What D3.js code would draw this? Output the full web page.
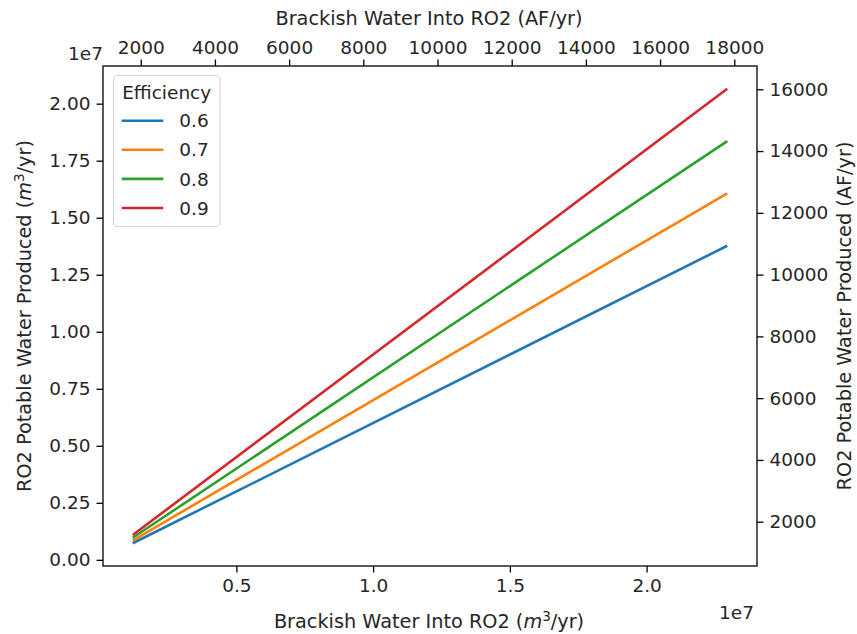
<!DOCTYPE html>
<html>
<head>
<meta charset="utf-8">
<script src="https://cdn.jsdelivr.net/npm/d3@7/dist/d3.min.js"></script>
<style>
  html, body { margin: 0; padding: 0; background: #fff; }
  svg { display: block; font-family: "DejaVu Sans", sans-serif; }
</style>
</head>
<body>
<svg id="chart" width="857" height="634"></svg>
<script>
// ---- data ----
const efficiency = ["0.6", "0.7", "0.8", "0.9"];
const colors = ["#1f77b4", "#ff7f0e", "#2ca02c", "#d62728"];
const brackishM3 = [1.21e6, 2.295e7];          // bottom axis (m3/yr)
const potable06 = [0.726e6, 1.377e7];
const potable07 = [0.847e6, 1.6065e7];
const potable08 = [0.968e6, 1.836e7];
const potable09 = [1.089e6, 2.0655e7];
const brackishAF = [1784, 17811];              // top twin axis extent (AF/yr)
const potableAF = [1302, 16018];               // right twin axis extent (AF/yr)
const xTicks = [0.5e7, 1.0e7, 1.5e7, 2.0e7];
const yTicks = [0, 0.25e7, 0.5e7, 0.75e7, 1.0e7, 1.25e7, 1.5e7, 1.75e7, 2.0e7];
const topTicks = [2000, 4000, 6000, 8000, 10000, 12000, 14000, 16000, 18000];
const rightTicks = [2000, 4000, 6000, 8000, 10000, 12000, 14000, 16000];

const series = [potable06, potable07, potable08, potable09];

// ---- layout ----
const L = 103, R = 757, T = 66, B = 566;
const FS = 18.5;
const LFS = 19.3;
const txt = "#262626";
const svg = d3.select("#chart");

function padded(ext) {
  const [lo, hi] = d3.extent(ext);
  const m = (hi - lo) * 0.05;
  return [lo - m, hi + m];
}
const allY = series.flat();
const x = d3.scaleLinear().domain(padded(brackishM3)).range([L, R]);
const y = d3.scaleLinear().domain(padded(allY)).range([B, T]);
const xTop = d3.scaleLinear().domain(padded(brackishAF)).range([L, R]);
const yRight = d3.scaleLinear().domain(padded(potableAF)).range([B, T]);

const TL = 6.5, PAD = 6;

function styleAxis(g) {
  g.select(".domain").remove();
  g.selectAll(".tick line").attr("stroke", "#000").attr("stroke-width", 1.3);
  g.selectAll(".tick text").attr("fill", txt).style("font-size", FS + "px")
    .style("font-family", "DejaVu Sans");
}

svg.append("g").attr("transform", `translate(0,${B})`)
  .call(d3.axisBottom(x).tickValues(xTicks).tickFormat(d => (d / 1e7).toFixed(1))
    .tickSizeInner(TL).tickSizeOuter(0).tickPadding(PAD))
  .call(styleAxis);
svg.append("g").attr("transform", `translate(${L},0)`)
  .call(d3.axisLeft(y).tickValues(yTicks).tickFormat(d => (d / 1e7).toFixed(2))
    .tickSizeInner(TL).tickSizeOuter(0).tickPadding(PAD))
  .call(styleAxis);
svg.append("g").attr("transform", `translate(0,${T})`)
  .call(d3.axisTop(xTop).tickValues(topTicks).tickFormat(d3.format("d"))
    .tickSizeInner(TL).tickSizeOuter(0).tickPadding(PAD))
  .call(styleAxis);
svg.append("g").attr("transform", `translate(${R},0)`)
  .call(d3.axisRight(yRight).tickValues(rightTicks).tickFormat(d3.format("d"))
    .tickSizeInner(TL).tickSizeOuter(0).tickPadding(PAD))
  .call(styleAxis);

// ---- lines ----
const line = d3.line().x((d, i) => x(brackishM3[i])).y(d => y(d));
series.forEach((s, i) => {
  svg.append("path").datum(s).attr("d", line)
    .attr("fill", "none").attr("stroke", colors[i]).attr("stroke-width", 2.6);
});

// ---- spines ----
svg.append("rect").attr("x", L).attr("y", T).attr("width", R - L).attr("height", B - T)
  .attr("fill", "none").attr("stroke", "#000").attr("stroke-width", 1.3);

// ---- offset labels ----
svg.append("text").attr("x", R - 3).attr("y", 619).attr("text-anchor", "end")
  .attr("fill", txt).style("font-size", FS + "px").text("1e7");
svg.append("text").attr("x", L).attr("y", 60).attr("text-anchor", "end")
  .attr("fill", txt).style("font-size", FS + "px").text("1e7");

// ---- axis labels ----
const cx = (L + R) / 2, cy = (T + B) / 2;
svg.append("text").attr("x", cx - 1).attr("y", 25).attr("text-anchor", "middle")
  .attr("fill", txt).style("font-size", LFS + "px").text("Brackish Water Into RO2 (AF/yr)");

const bl = svg.append("text").attr("x", cx - 1).attr("y", 628).attr("text-anchor", "middle")
  .attr("fill", txt).style("font-size", LFS + "px");
bl.append("tspan").text("Brackish Water Into RO2 (");
bl.append("tspan").style("font-style", "italic").text("m");
bl.append("tspan").attr("dy", -7).style("font-size", (LFS * 0.7) + "px").text("3");
bl.append("tspan").attr("dy", 7).text("/yr)");

const ll = svg.append("text").attr("transform", `translate(31,${cy}) rotate(-90)`)
  .attr("text-anchor", "middle").attr("fill", txt).style("font-size", LFS + "px");
ll.append("tspan").text("RO2 Potable Water Produced (");
ll.append("tspan").style("font-style", "italic").text("m");
ll.append("tspan").attr("dy", -7).style("font-size", (LFS * 0.7) + "px").text("3");
ll.append("tspan").attr("dy", 7).text("/yr)");

svg.append("text").attr("transform", `translate(851,${cy}) rotate(-90)`)
  .attr("text-anchor", "middle").attr("fill", txt).style("font-size", LFS + "px")
  .text("RO2 Potable Water Produced (AF/yr)");

// ---- legend ----
const lg = svg.append("g");
lg.append("rect").attr("x", 113.5).attr("y", 75.5).attr("width", 106.5).attr("height", 151)
  .attr("rx", 4).attr("fill", "#fff").attr("fill-opacity", 0.8)
  .attr("stroke", "#d6d6d6").attr("stroke-width", 1.2);
lg.append("text").attr("x", 166.7).attr("y", 98.5).attr("text-anchor", "middle")
  .attr("fill", txt).style("font-size", FS + "px").text("Efficiency");
efficiency.forEach((e, i) => {
  const yy = 120.7 + i * 29.1;
  lg.append("line").attr("x1", 121.7).attr("x2", 163.3).attr("y1", yy).attr("y2", yy)
    .attr("stroke", colors[i]).attr("stroke-width", 2.6);
  lg.append("text").attr("x", 179.3).attr("y", yy + 6.6)
    .attr("fill", txt).style("font-size", FS + "px").text(e);
});
</script>
</body>
</html>
